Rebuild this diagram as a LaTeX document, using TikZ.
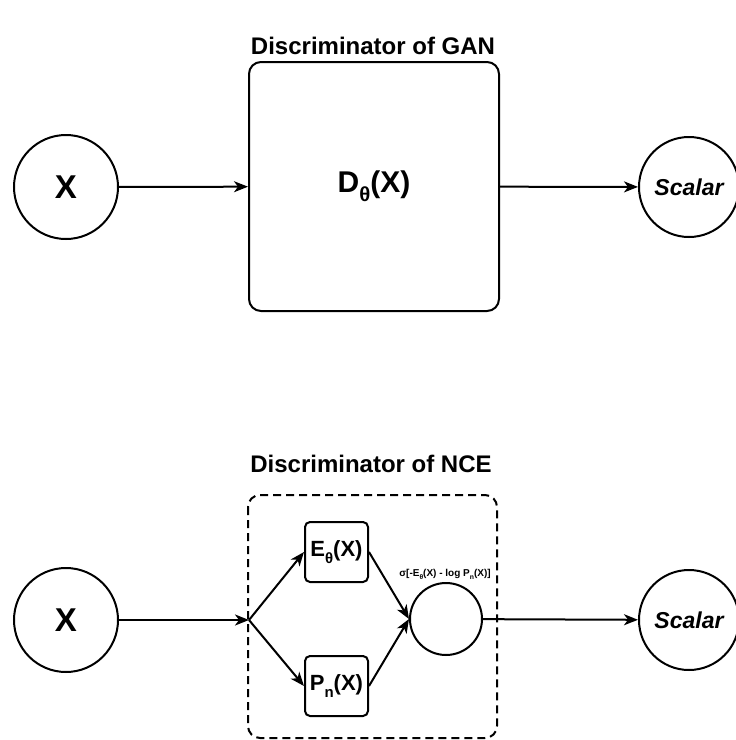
\documentclass[tikz,border=0pt]{standalone}
\usepackage{fontspec}
\setmainfont{Liberation Sans}
\usetikzlibrary{arrows.meta}
\newcommand\mysub[1]{\raisebox{-0.55ex}{\scalebox{0.68}{#1}}}
\tikzset{
  every node/.style={font=\bfseries},
  ln/.style={line width=2pt},
  arr/.style={ln,-{Stealth[length=14pt,width=11pt,inset=4pt]}},
  bigcirc/.style={circle,draw,line width=2pt,minimum size=104pt,inner sep=0pt},
  bigbox/.style={draw,line width=2pt,rounded corners=12pt,minimum width=250pt,minimum height=249pt,inner sep=0pt},
  smallbox/.style={draw,line width=2pt,rounded corners=5pt,minimum width=63pt,minimum height=60pt,inner sep=0pt},
  dashbox/.style={draw,line width=2pt,dash pattern=on 8pt off 5pt,rounded corners=12pt},
  ttl/.style={font=\fontsize{24}{27}\selectfont\bfseries}
}
\begin{document}
\begin{tikzpicture}[x=1pt,y=-1pt]
\useasboundingbox (0,0) rectangle (736,740);
% GAN
\node[ttl] (t1) at (373,46) {Discriminator of GAN};
\node[bigcirc,font=\fontsize{33}{35}\selectfont\bfseries] (x1) at (66,187) {X};
\node[bigbox,font=\fontsize{30}{32}\selectfont\bfseries] (d) at (374,186.5) {D\mysub{θ}(X)};
\node[bigcirc,minimum size=100pt,font=\fontsize{23}{25}\selectfont\bfseries\itshape] (s1) at (689,187) {Scalar};
\draw[arr] (x1) -- (d);
\draw[arr] (d) -- (s1);
% NCE
\node[ttl] (t2) at (371,464) {Discriminator of NCE};
\draw[dashbox] (248,495) rectangle (497,738);
\node[bigcirc,font=\fontsize{33}{35}\selectfont\bfseries] (x2) at (66,620) {X};
\coordinate (j) at (249,620);
\node[smallbox,font=\fontsize{22}{24}\selectfont\bfseries] (e) at (336.5,552) {E\mysub{θ}(X)};
\node[smallbox,font=\fontsize{22}{24}\selectfont\bfseries] (p) at (336.5,686) {P\mysub{n}(X)};
\node[circle,draw,line width=2pt,minimum size=72pt,inner sep=0pt] (c) at (446,619) {};
\node[font=\fontsize{10}{11}\selectfont\bfseries] (lab) at (445,574) {σ[-E\mysub{θ}(X) - log P\mysub{n}(X)]};
\node[bigcirc,minimum size=100pt,font=\fontsize{23}{25}\selectfont\bfseries\itshape] (s2) at (689,620) {Scalar};
\draw[arr] (x2) -- (j);
\draw[arr] (j) -- (e.west);
\draw[arr] (j) -- (p.west);
\draw[arr] (e.east) -- (c.west);
\draw[arr] (p.east) -- (c.west);
\draw[arr] (c) -- (s2);
\end{tikzpicture}
\end{document}
